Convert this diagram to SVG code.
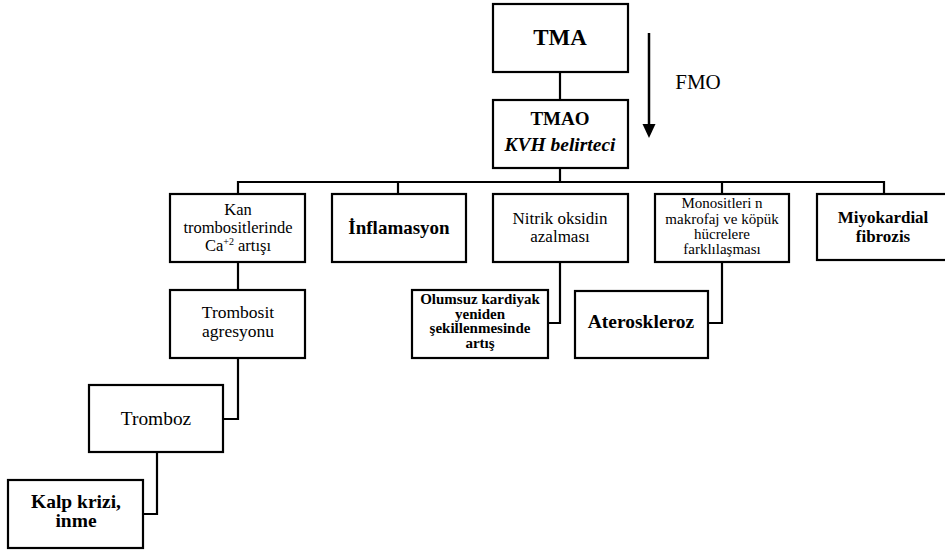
<svg xmlns="http://www.w3.org/2000/svg" width="945" height="554" viewBox="0 0 945 554" font-family="'Liberation Serif', 'Times New Roman', 'DejaVu Serif', serif">
<style>
.box{fill:#fff;stroke:#000;stroke-width:2.2}
.ln{fill:none;stroke:#000;stroke-width:2.2}
text{font-family:"Liberation Serif","Times New Roman","DejaVu Serif",serif;fill:#000;text-anchor:middle}
.b{font-weight:bold}
</style>
<rect width="945" height="554" fill="#fff"/>
<g id="connectors">
<path class="ln" d="M560,72 V100"/>
<path class="ln" d="M560,168 V182"/>
<path class="ln" d="M238,194 V182 H884 V194"/>
<path class="ln" d="M398,182 V194"/>
<path class="ln" d="M722,182 V194"/>
<path class="ln" d="M560,262 V323 H548"/>
<path class="ln" d="M722,262 V323 H708"/>
<path class="ln" d="M238,262 V290"/>
<path class="ln" d="M238,358 V419 H223"/>
<path class="ln" d="M157,452 V514 H143"/>
<line x1="649" y1="33" x2="649" y2="126" stroke="#000" stroke-width="2.5"/>
<path d="M642.5,124 L655.5,124 L649,138 Z" fill="#000"/>
</g>
<g id="fmo"><text x="698" y="89" font-size="21">FMO</text></g>
<g id="tma"><rect class="box" x="493" y="4" width="135" height="68"/><text class="b" x="560" y="45" font-size="23">TMA</text></g>
<g id="tmao"><rect class="box" x="493" y="100" width="135" height="68"/><text class="b" x="560" y="125" font-size="19">TMAO</text><text class="b" x="560" y="151" font-size="19.5" font-style="italic">KVH belirteci</text></g>
<g id="kan"><rect class="box" x="170" y="194" width="135" height="68"/><text x="238" y="215" font-size="16.5">Kan</text><text x="238" y="233" font-size="16.5">trombositlerinde</text><text x="238" y="251" font-size="16.5">Ca<tspan font-size="10" dy="-6">+2</tspan><tspan dy="6"> artışı</tspan></text></g>
<g id="inflamasyon"><rect class="box" x="332" y="194" width="134" height="68"/><text class="b" x="399" y="234" font-size="19">İnflamasyon</text></g>
<g id="nitrik"><rect class="box" x="493" y="194" width="135" height="68"/><text x="560" y="224" font-size="17">Nitrik oksidin</text><text x="560" y="242" font-size="17">azalması</text></g>
<g id="monositler"><rect class="box" x="655" y="194" width="134" height="68"/><text x="722" y="208" font-size="15">Monositleri n</text><text x="722" y="224" font-size="15">makrofaj ve köpük</text><text x="722" y="239" font-size="15">hücrelere</text><text x="722" y="254" font-size="15">farklılaşması</text></g>
<g id="miyokardial"><rect class="box" x="817" y="194" width="134" height="66"/><text class="b" x="883" y="223" font-size="17">Miyokardial</text><text class="b" x="883" y="241.5" font-size="17">fibrozis</text></g>
<g id="trombosit"><rect class="box" x="170" y="290" width="135" height="68"/><text x="238" y="318" font-size="17.5">Trombosit</text><text x="238" y="337" font-size="17.5">agresyonu</text></g>
<g id="olumsuz"><rect class="box" x="412" y="290" width="136" height="68"/><text class="b" x="480" y="304" font-size="15">Olumsuz kardiyak</text><text class="b" x="480" y="318.5" font-size="15">yeniden</text><text class="b" x="480" y="333" font-size="15">şekillenmesinde</text><text class="b" x="480" y="348" font-size="15">artış</text></g>
<g id="ateroskleroz"><rect class="box" x="575" y="291" width="133" height="67"/><text class="b" x="641" y="328" font-size="19.5">Ateroskleroz</text></g>
<g id="tromboz"><rect class="box" x="89" y="385" width="134" height="67"/><text x="156" y="425" font-size="19.4">Tromboz</text></g>
<g id="kalp"><rect class="box" x="8" y="480" width="135" height="68"/><text class="b" x="76" y="508" font-size="19.5">Kalp krizi,</text><text class="b" x="76" y="527" font-size="19.5">inme</text></g>
</svg>
